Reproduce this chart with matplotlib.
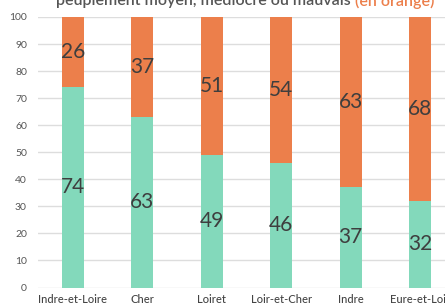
import matplotlib
matplotlib.use("Agg")
import matplotlib.pyplot as plt
import numpy as np

plt.rcParams["font.family"] = ["Lato", "DejaVu Sans"]

departements = ["Indre-et-Loire", "Cher", "Loiret", "Loir-et-Cher", "Indre", "Eure-et-Loir"]
bon = [74, 63, 49, 46, 37, 32]
mauvais = [26, 37, 51, 54, 63, 68]

VERT = "#83d9bb"
ORANGE = "#ec7f4b"
TEXTE = "#3e3e3e"

fig = plt.figure(figsize=(4.45, 3.05), dpi=100)
ax = fig.add_axes([38 / 445, 1 - 287.5 / 305, 417 / 445, 270.5 / 305])

x = np.arange(len(departements))
width = 0.31
ax.bar(x, bon, width, color=VERT, zorder=2)
ax.bar(x, mauvais, width, bottom=bon, color=ORANGE, zorder=2)

for xi, b, m in zip(x, bon, mauvais):
    ax.text(xi, b / 2, str(b), ha="center", va="center", fontsize=15, color=TEXTE, zorder=3)
    ax.text(xi, b + m / 2, str(m), ha="center", va="center", fontsize=15, color=TEXTE, zorder=3)

ax.set_xlim(-0.5, 5.5)
ax.set_ylim(0, 100)
ax.set_yticks(range(0, 101, 10))
ax.set_xticks(x)
ax.set_xticklabels(departements, fontsize=8, color="#444444", fontweight="medium")
ax.tick_params(axis="y", length=0, pad=8, labelsize=7.5, labelcolor="#555555")
ax.tick_params(axis="x", length=0, pad=5)
ax.grid(axis="y", color="#dddddd", lw=1, zorder=0)
for s in ax.spines.values():
    s.set_visible(False)

# title, cut at the top edge in the source
fig.text(56 / 445, 1 - 1 / 305, "peuplement moyen, médiocre ou mauvais ", ha="left", va="center",
         fontsize=11.5, color="#555555", fontweight="semibold")
fig.canvas.draw()
r = fig.texts[0].get_window_extent()
fig.text(r.x1 / 445, 1 - 1 / 305, "(en orange)", ha="left", va="center",
         fontsize=11.5, color=ORANGE, fontweight="semibold")

fig.savefig("out.png", dpi=100)
